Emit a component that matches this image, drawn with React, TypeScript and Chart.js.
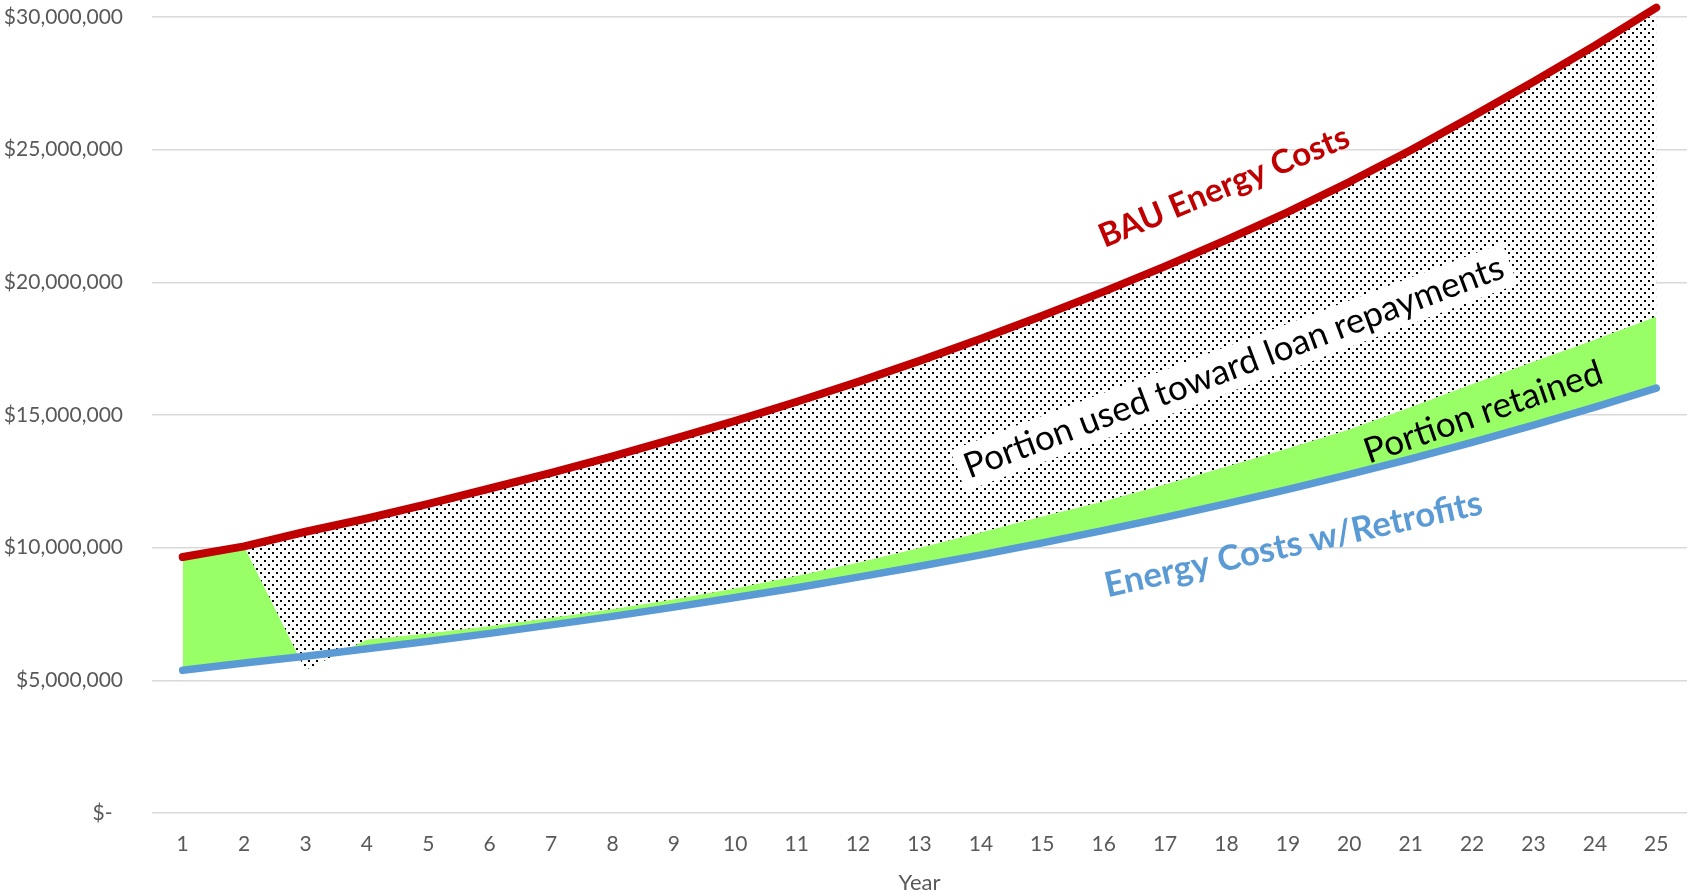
import React, { useEffect, useRef } from 'react';
import { Chart, registerables } from 'chart.js';

Chart.register(...registerables);

const years = ['1', '2', '3', '4', '5', '6', '7', '8', '9', '10', '11', '12', '13', '14', '15', '16', '17', '18', '19', '20', '21', '22', '23', '24', '25'];

const bauCosts = [
  9650000, 10050000, 10600000, 11100000, 11650000, 12230000, 12820000, 13440000, 14100000, 14780000,
  15500000, 16250000, 17040000, 17870000, 18740000, 19650000, 20600000, 21600000, 22650000, 23780000,
  24980000, 26250000, 27560000, 28920000, 30350000,
];

const retrofitCosts = [
  5380000, 5650000, 5910000, 6190000, 6470000, 6770000, 7090000, 7410000, 7760000, 8120000,
  8490000, 8890000, 9300000, 9730000, 10180000, 10650000, 11140000, 11660000, 12200000, 12760000,
  13350000, 13970000, 14620000, 15300000, 16010000,
];

const retainedPortion = [
  4270000, 4400000, -520000, 350000, 300000, 280000, 270000, 280000, 300000, 350000,
  450000, 550000, 700000, 850000, 1000000, 1100000, 1250000, 1400000, 1550000, 1700000,
  1950000, 2200000, 2400000, 2550000, 2700000,
];

const yMin = 0;
const yMax = 30000000;
const yStep = 5000000;

type Note = {
  text: string;
  at: [number, number];
  angle: number;
  width: number;
  weight: string;
  color: string;
  box?: string;
};

const notes: Note[] = [
  { text: 'BAU Energy Costs', at: [16.96, 23600000], angle: -22.5, width: 268, weight: 'bold', color: '#C00000' },
  { text: 'Portion used toward loan repayments', at: [17.12, 16800000], angle: -20.6, width: 574, weight: 'normal', color: '#000000', box: '#FFFFFF' },
  { text: 'Portion retained', at: [21.18, 15100000], angle: -19, width: 250, weight: 'normal', color: '#000000' },
  { text: 'Energy Costs w/Retrofits', at: [18.09, 10120000], angle: -12.5, width: 386, weight: 'bold', color: '#5B9BD5' },
];

const FONT = 'Lato, "Open Sans", "DejaVu Sans", sans-serif';

const notesPlugin = {
  id: 'notes',
  afterDraw(chart: any) {
    const { ctx } = chart;
    const xs = chart.scales.x;
    const ys = chart.scales.y;
    for (const n of notes) {
      const px = xs.getPixelForValue(n.at[0]);
      const py = ys.getPixelForValue(n.at[1]);
      ctx.save();
      ctx.font = `${n.weight} 100px ${FONT}`;
      const w100 = ctx.measureText(n.text).width;
      const size = (100 * n.width) / w100;
      ctx.font = `${n.weight} ${size}px ${FONT}`;
      ctx.translate(px, py);
      ctx.rotate((n.angle * Math.PI) / 180);
      if (n.box) {
        const padX = 8;
        const h = size * 1.25;
        ctx.fillStyle = n.box;
        ctx.fillRect(-n.width / 2 - padX, -h / 2, n.width + padX * 2, h);
      }
      ctx.fillStyle = n.color;
      ctx.textAlign = 'center';
      ctx.textBaseline = 'middle';
      ctx.fillText(n.text, 0, 0);
      ctx.restore();
    }
  },
};

export default function App() {
  const ref = useRef<HTMLCanvasElement>(null);

  useEffect(() => {
    document.body.style.margin = '0';
    const canvas = ref.current!;
    const tile = document.createElement('canvas');
    tile.width = 8;
    tile.height = 8;
    const t = tile.getContext('2d')!;
    t.fillStyle = '#FFFFFF';
    t.fillRect(0, 0, 8, 8);
    t.fillStyle = '#000000';
    t.fillRect(0, 0, 2, 2);
    t.fillRect(4, 4, 2, 2);
    const pattern = canvas.getContext('2d')!.createPattern(tile, 'repeat');

    const retainedTop = retrofitCosts.map((v, i) => v + retainedPortion[i]);

    const chart = new Chart(canvas, {
      type: 'line',
      data: {
        labels: years,
        datasets: [
          {
            label: 'Energy Costs w/Retrofits',
            data: retrofitCosts,
            borderColor: '#5B9BD5',
            borderWidth: 7.5,
            borderCapStyle: 'round',
            borderJoinStyle: 'round',
            pointRadius: 0,
            fill: false,
            order: 0,
            tension: 0,
            clip: false,
          },
          {
            label: 'Portion retained',
            data: retainedTop,
            borderColor: 'rgba(0,0,0,0)',
            borderWidth: 0,
            backgroundColor: '#99FF66',
            pointRadius: 0,
            fill: '-1',
            order: 2,
            tension: 0,
          },
          {
            label: 'BAU Energy Costs',
            data: bauCosts,
            borderColor: '#C00000',
            borderWidth: 8,
            borderCapStyle: 'round',
            borderJoinStyle: 'round',
            backgroundColor: pattern as any,
            pointRadius: 0,
            fill: '-1',
            order: 1,
            tension: 0,
            clip: false,
          },
        ],
      },
      options: {
        animation: false,
        responsive: false,
        layout: { padding: { left: 0, right: 4, top: 17, bottom: 0 } },
        plugins: {
          legend: { display: false },
          tooltip: { enabled: false },
        },
        scales: {
          x: {
            offset: true,
            grid: { display: false, drawTicks: false },
            border: { display: false },
            ticks: {
              color: '#595959',
              font: { family: FONT, size: 21 },
              padding: 19,
              maxRotation: 0,
              autoSkip: false,
            },
            title: {
              display: true,
              text: 'Year',
              color: '#595959',
              font: { family: FONT, size: 22, lineHeight: 0.95 },
              padding: { top: 0, bottom: 0 },
            },
            afterFit: (s: any) => {
              s.height = 80;
            },
          },
          y: {
            min: yMin,
            max: yMax,
            grid: { color: '#D9D9D9', lineWidth: 1.5, drawTicks: false },
            border: { display: false },
            ticks: {
              stepSize: yStep,
              color: '#595959',
              font: { family: FONT, size: 21 },
              padding: 29,
              callback: (v: any) => (Number(v) === 0 ? '$-\u2002' : '$' + Number(v).toLocaleString('en-US')),
            },
            afterFit: (s: any) => {
              s.width = 152;
              s.paddingTop = 0;
              s.paddingBottom = 0;
            },
          },
        },
      },
      plugins: [notesPlugin],
    });

    return () => chart.destroy();
  }, []);

  return (
    <div style={{ width: 1691, height: 893 }}>
      <canvas ref={ref} width={1691} height={893} style={{ display: 'block' }} />
    </div>
  );
}
